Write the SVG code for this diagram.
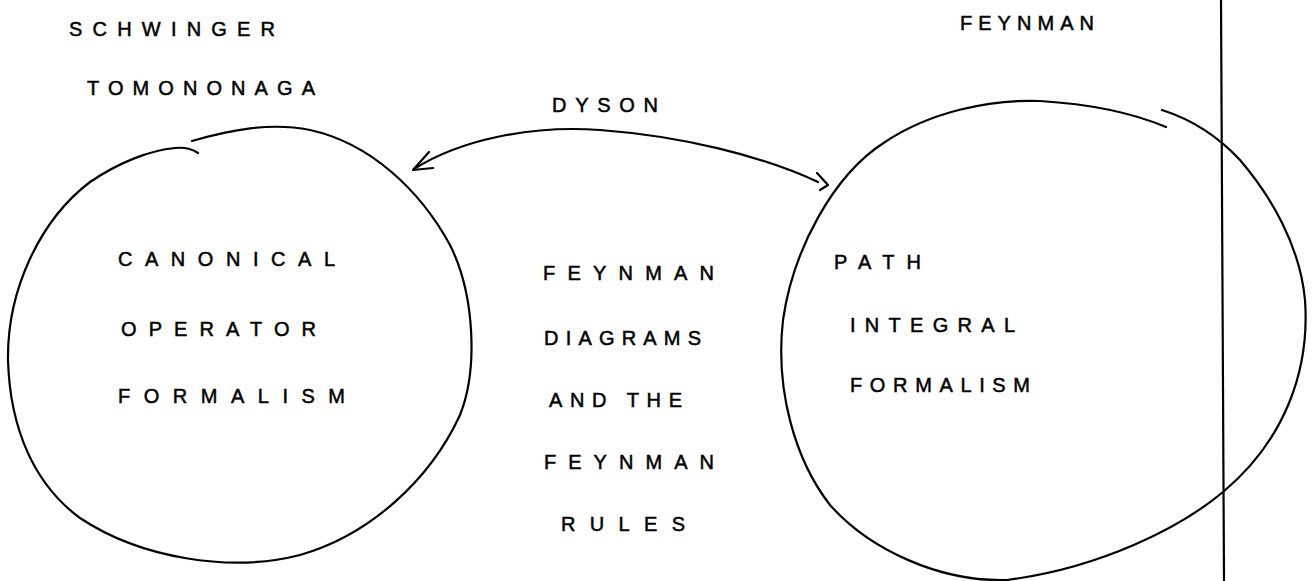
<svg xmlns="http://www.w3.org/2000/svg" width="1315" height="581" viewBox="0 0 1315 581">
<style>
.t{font-family:"Liberation Sans",Arial,sans-serif;font-size:20px;fill:#000;stroke:#000;stroke-width:0.5}
.s{fill:none;stroke:#000;stroke-width:2.2;stroke-linecap:round;stroke-linejoin:round}
</style>
<rect width="1315" height="581" fill="#fff"/>
<g id="labels-top">
<text class="t" x="69" y="36" textLength="206" lengthAdjust="spacing">SCHWINGER</text>
<text class="t" x="87" y="95" textLength="228" lengthAdjust="spacing">TOMONONAGA</text>
<text class="t" x="960" y="30" textLength="134" lengthAdjust="spacing">FEYNMAN</text>
</g>
<g id="left-node">
<path class="s" d="M192,141 C230,130 270,122 310,130 C370,143 420,190 450,245 C475,295 478,370 460,415 C430,480 370,535 300,555 C230,573 140,558 80,518 C35,485 10,430 8,360 C7,290 40,220 90,182 C118,163 150,150 175,148 C185,147 192,149 198,153"/>
<text class="t" x="118" y="266" textLength="217" lengthAdjust="spacing">CANONICAL</text>
<text class="t" x="121" y="336" textLength="195" lengthAdjust="spacing">OPERATOR</text>
<text class="t" x="118" y="403" textLength="227" lengthAdjust="spacing">FORMALISM</text>
</g>
<g id="center-label">
<text class="t" x="543" y="280" textLength="171" lengthAdjust="spacing">FEYNMAN</text>
<text class="t" x="544" y="345" textLength="157" lengthAdjust="spacing">DIAGRAMS</text>
<text class="t" x="549" y="407" textLength="133" lengthAdjust="spacing">AND THE</text>
<text class="t" x="544" y="469" textLength="170" lengthAdjust="spacing">FEYNMAN</text>
<text class="t" x="561" y="531" textLength="124" lengthAdjust="spacing">RULES</text>
</g>
<g id="right-node">
<path class="s" d="M1162,110 C1190,119 1215,133 1240,160 C1270,195 1300,245 1305,300 C1310,370 1285,440 1223,492 C1180,528 1100,568 1007,580 C940,582 870,550 830,505 C795,460 775,390 783,320 C793,250 833,175 885,142 C930,112 990,99 1040,101 C1090,104 1135,114 1166,127"/>
<text class="t" x="834" y="269" textLength="87" lengthAdjust="spacing">PATH</text>
<text class="t" x="850" y="332" textLength="165" lengthAdjust="spacing">INTEGRAL</text>
<text class="t" x="850" y="392" textLength="180" lengthAdjust="spacing">FORMALISM</text>
</g>
<g id="connectors">
<path class="s" d="M414,169 C460,140 530,125 600,130 C680,136 760,155 818,182"/>
<path class="s" d="M429,152 L413,170 L433,168"/>
<path class="s" d="M817,173 L828,185 L820,190"/>
<text class="t" x="552" y="112" textLength="106" lengthAdjust="spacing">DYSON</text>
</g>
<g id="divider">
<path d="M1221,0 L1224,581" stroke="#000" stroke-width="2.2" fill="none"/>
</g>
</svg>
